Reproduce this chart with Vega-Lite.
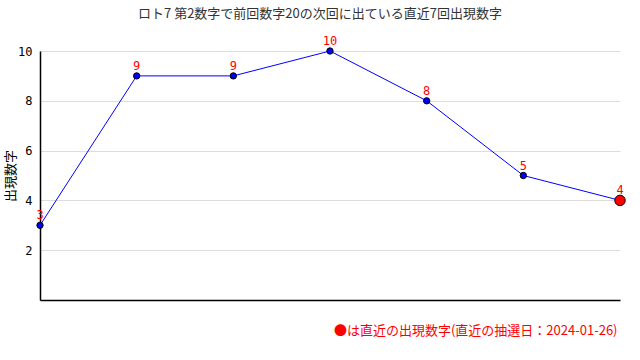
{
  "$schema": "https://vega.github.io/schema/vega-lite/v6.json",
  "width": 580,
  "height": 249,
  "autosize": {"type": "none"},
  "padding": {"left": 40, "top": 51, "right": 20, "bottom": 60},
  "background": "white",
  "title": {
    "text": "ロト7 第2数字で前回数字20の次回に出ている直近7回出現数字",
    "anchor": "middle",
    "frame": "group",
    "dx": -10,
    "offset": 14,
    "fontSize": 13,
    "fontWeight": "normal",
    "font": "Noto Sans CJK JP",
    "color": "#333333"
  },
  "config": {
    "view": {"stroke": null},
    "font": "Noto Sans CJK JP"
  },
  "data": {
    "values": [
      {"idx": 1, "num": 3, "latest": "no"},
      {"idx": 2, "num": 9, "latest": "no"},
      {"idx": 3, "num": 9, "latest": "no"},
      {"idx": 4, "num": 10, "latest": "no"},
      {"idx": 5, "num": 8, "latest": "no"},
      {"idx": 6, "num": 5, "latest": "no"},
      {"idx": 7, "num": 4, "latest": "yes"}
    ]
  },
  "encoding": {
    "x": {
      "field": "idx",
      "type": "quantitative",
      "scale": {"domain": [1, 7], "nice": false, "zero": false},
      "axis": {
        "title": "●は直近の出現数字(直近の抽選日：2024-01-26)",
        "titleColor": "#ff0000",
        "titleFontSize": 13,
        "titleFontWeight": "normal",
        "titleAnchor": "end",
        "titlePadding": 24,
        "titleX": 577,
        "labels": false,
        "ticks": false,
        "grid": false,
        "domainColor": "#000000",
        "domainWidth": 1.5
      }
    },
    "y": {
      "field": "num",
      "type": "quantitative",
      "scale": {"domain": [0, 10], "nice": false},
      "axis": {
        "title": "出現数字",
        "titleFontSize": 13,
        "titleFontWeight": "normal",
        "titleColor": "#000000",
        "titleX": -23,
        "titleBaseline": "bottom",
        "values": [2, 4, 6, 8, 10],
        "ticks": false,
        "labelPadding": 8,
        "labelFontSize": 12,
        "labelColor": "#000000",
        "labelFont": "DejaVu Sans Mono",
        "gridColor": "#dddddd",
        "domainColor": "#000000",
        "domainWidth": 1.5
      }
    }
  },
  "layer": [
    {"mark": {"type": "line", "color": "#0000ff", "strokeWidth": 1}},
    {
      "mark": {"type": "point", "filled": true, "stroke": "#000000", "strokeWidth": 1, "opacity": 1},
      "encoding": {
        "color": {
          "field": "latest",
          "type": "nominal",
          "scale": {"domain": ["no", "yes"], "range": ["#0000ff", "#ff0000"]},
          "legend": null
        },
        "size": {
          "field": "latest",
          "type": "nominal",
          "scale": {"domain": ["no", "yes"], "range": [40, 110]},
          "legend": null
        }
      }
    },
    {
      "mark": {"type": "text", "color": "#ff0000", "dy": -10, "fontSize": 12, "font": "DejaVu Sans Mono"},
      "encoding": {"text": {"field": "num", "type": "quantitative"}}
    }
  ]
}
